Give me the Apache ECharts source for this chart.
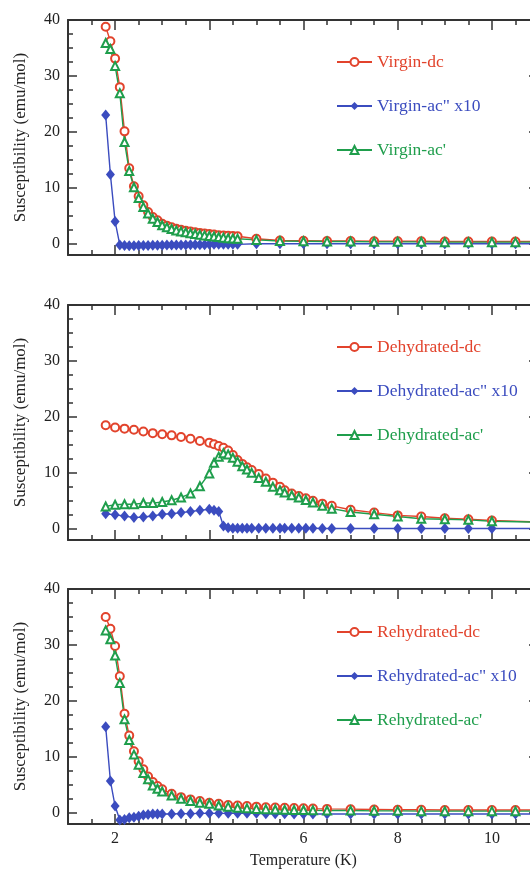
<!DOCTYPE html>
<html>
<head>
<meta charset="utf-8">
<script src="https://cdn.jsdelivr.net/npm/echarts@6/dist/echarts.min.js"></script>
<style>
  html, body { margin: 0; padding: 0; background: #fff; }
  #chart { width: 530px; height: 871px; }
</style>
</head>
<body>
<div id="chart"></div>
<script>
// temperatures (K)
const tVirgin = [1.8, 1.9, 2.0, 2.1, 2.2, 2.3, 2.4, 2.5, 2.6, 2.7, 2.8, 2.9, 3.0, 3.1, 3.2, 3.3, 3.4, 3.5, 3.6, 3.7, 3.8, 3.9, 4.0, 4.1, 4.2, 4.3, 4.4, 4.5, 4.6,
  5.0, 5.5, 6.0, 6.5, 7.0, 7.5, 8.0, 8.5, 9.0, 9.5, 10.0, 10.5, 11.0]
const tDehyd = [1.8, 2.0, 2.2, 2.4, 2.6, 2.8, 3.0, 3.2, 3.4, 3.6, 3.8, 4.0, 4.1, 4.2, 4.3, 4.4, 4.5, 4.6, 4.7, 4.8, 4.9,
  5.05, 5.2, 5.35, 5.5, 5.6, 5.75, 5.9, 6.05, 6.2, 6.4, 6.6, 7.0, 7.5, 8.0, 8.5, 9.0, 9.5, 10.0, 11.0]
const tRehyd = [1.8, 1.9, 2.0, 2.1, 2.2, 2.3, 2.4, 2.5, 2.6, 2.7, 2.8, 2.9, 3.0, 3.2, 3.4, 3.6, 3.8, 4.0, 4.2, 4.4, 4.6, 4.8,
  5.0, 5.2, 5.4, 5.6, 5.8, 6.0, 6.2, 6.5, 7.0, 7.5, 8.0, 8.5, 9.0, 9.5, 10.0, 10.5, 11.0]

// susceptibility (emu/mol)
const virginDc = [38.8, 36.2, 33.1, 28.0, 20.1, 13.5, 10.3, 8.5, 6.9, 5.7, 4.8, 4.2, 3.6, 3.25, 2.95, 2.7, 2.5, 2.35, 2.2, 2.05, 1.95, 1.85, 1.75, 1.65, 1.55, 1.5, 1.45, 1.4, 1.35,
  0.9, 0.6, 0.55, 0.5, 0.5, 0.45, 0.45, 0.45, 0.4, 0.4, 0.4, 0.4, 0.4]
const virginAc2 = [23.0, 12.4, 4.0, -0.2, -0.3, -0.35, -0.35, -0.3, -0.3, -0.3, -0.25, -0.25, -0.25, -0.2, -0.2, -0.2, -0.2, -0.2, -0.15, -0.15, -0.15, -0.15, -0.1, -0.1, -0.1, -0.1, -0.1, -0.1, -0.1,
  0.0, 0.0, 0.0, 0.0, 0.0, 0.0, 0.0, 0.0, 0.0, 0.0, 0.0, 0.0, 0.0]
const virginAc1 = [35.9, 34.8, 31.8, 26.9, 18.2, 13.0, 10.1, 8.2, 6.6, 5.4, 4.5, 3.9, 3.3, 2.95, 2.65, 2.4, 2.2, 2.05, 1.9, 1.75, 1.6, 1.5, 1.4, 1.3, 1.2, 1.1, 1.0, 0.95, 0.9,
  0.7, 0.5, 0.45, 0.4, 0.4, 0.35, 0.35, 0.35, 0.3, 0.3, 0.3, 0.3, 0.3]

const dehydDc = [18.5, 18.1, 17.9, 17.7, 17.4, 17.1, 16.9, 16.7, 16.4, 16.1, 15.7, 15.4, 15.1, 14.8, 14.5, 14.0, 13.2, 12.3, 11.6, 11.0, 10.5,
  9.8, 9.0, 8.25, 7.5, 6.9, 6.3, 5.85, 5.45, 5.0, 4.5, 4.1, 3.4, 2.9, 2.4, 2.2, 1.9, 1.7, 1.5, 1.2]
const dehydAc2 = [2.7, 2.5, 2.3, 2.0, 2.1, 2.3, 2.6, 2.7, 2.9, 3.1, 3.3, 3.5, 3.3, 3.1, 0.5, 0.2, 0.1, 0.1, 0.1, 0.1, 0.1,
  0.1, 0.1, 0.1, 0.1, 0.1, 0.1, 0.1, 0.1, 0.1, 0.05, 0.05, 0.05, 0.05, 0.05, 0.05, 0.05, 0.05, 0.05, 0.05]
const dehydAc1 = [4.0, 4.3, 4.4, 4.4, 4.6, 4.6, 4.8, 5.1, 5.6, 6.3, 7.6, 9.9, 11.8, 12.9, 13.5, 13.3, 12.7, 12.0, 11.2, 10.6, 10.0,
  9.1, 8.4, 7.5, 6.9, 6.5, 6.0, 5.6, 5.15, 4.7, 4.1, 3.6, 3.0, 2.6, 2.2, 1.8, 1.7, 1.6, 1.35, 1.2]

const rehydDc = [35.0, 32.9, 29.8, 24.4, 17.7, 13.8, 11.0, 9.2, 7.8, 6.5, 5.5, 4.8, 4.2, 3.4, 2.8, 2.4, 2.1, 1.8, 1.6, 1.4, 1.3, 1.2,
  1.1, 1.0, 0.95, 0.9, 0.85, 0.8, 0.75, 0.7, 0.65, 0.6, 0.55, 0.55, 0.5, 0.5, 0.5, 0.5, 0.5]
const rehydAc2 = [15.4, 5.7, 1.2, -1.3, -1.2, -0.9, -0.8, -0.6, -0.4, -0.3, -0.2, -0.2, -0.2, -0.2, -0.15, -0.15, -0.1, -0.1, -0.1, -0.1, -0.1, -0.1,
  -0.1, -0.15, -0.15, -0.15, -0.2, -0.2, -0.2, -0.2, -0.2, -0.2, -0.2, -0.2, -0.2, -0.2, -0.2, -0.2, -0.2]
const rehydAc1 = [32.6, 31.0, 28.1, 23.2, 16.7, 13.0, 10.4, 8.6, 7.1, 6.0, 4.9, 4.3, 3.8, 3.1, 2.5, 2.1, 1.8, 1.6, 1.3, 1.1, 0.9, 0.8,
  0.7, 0.65, 0.6, 0.55, 0.5, 0.5, 0.45, 0.4, 0.4, 0.35, 0.35, 0.3, 0.3, 0.3, 0.3, 0.3, 0.3]

// tick positions
const xMajor = [2, 4, 6, 8, 10]
const xMinor = [1.5, 2.5, 3, 3.5, 4.5, 5, 5.5, 6.5, 7, 7.5, 8.5, 9, 9.5, 10.5]
const yMajor = [0, 10, 20, 30, 40]
const yMinor = [2.5, 5, 7.5, 12.5, 15, 17.5, 22.5, 25, 27.5, 32.5, 35, 37.5]

const panels = [
  { name: 'Virgin', t: tVirgin, dc: virginDc, ac2: virginAc2, ac1: virginAc1 },
  { name: 'Dehydrated', t: tDehyd, dc: dehydDc, ac2: dehydAc2, ac1: dehydAc1 },
  { name: 'Rehydrated', t: tRehyd, dc: rehydDc, ac2: rehydAc2, ac1: rehydAc1 }
]

const RED = '#e2432c'
const BLUE = '#3b4cbf'
const GREEN = '#1f9e4c'
const AXIS = '#333'
const FONT = 'Liberation Serif'

const gridTops = [20, 305, 589]
const legendTops = [48, 333, 618]

const frame = { show: true, onZero: false, lineStyle: { color: AXIS, width: 2 } }
const noLine = { show: false, onZero: false }

function zip(t, v) {
  return t.map((x, i) => [x, v[i]])
}

function xAxesFor(g) {
  const base = { gridIndex: g, type: 'value', min: 1, max: 11, splitLine: { show: false } }
  const last = g === 2
  return [
    Object.assign({}, base, {
      position: 'bottom',
      axisLine: frame,
      axisTick: { inside: true, length: 10, customValues: xMajor, lineStyle: { color: AXIS, width: 1.5 } },
      axisLabel: { show: last, customValues: xMajor, margin: 7, color: '#222', fontFamily: FONT, fontSize: 16 },
      name: last ? 'Temperature (K)' : '',
      nameLocation: 'middle',
      nameGap: 29,
      nameTextStyle: { color: '#222', fontFamily: FONT, fontSize: 16 }
    }),
    Object.assign({}, base, {
      position: 'bottom',
      axisLine: noLine,
      axisTick: { inside: true, length: 5, customValues: xMinor, lineStyle: { color: AXIS, width: 1.5 } },
      axisLabel: { show: false }
    }),
    Object.assign({}, base, {
      position: 'top',
      axisLine: frame,
      axisTick: { inside: true, length: 10, customValues: xMajor, lineStyle: { color: AXIS, width: 1.5 } },
      axisLabel: { show: false }
    }),
    Object.assign({}, base, {
      position: 'top',
      axisLine: noLine,
      axisTick: { inside: true, length: 5, customValues: xMinor, lineStyle: { color: AXIS, width: 1.5 } },
      axisLabel: { show: false }
    })
  ]
}

function yAxesFor(g) {
  const base = { gridIndex: g, type: 'value', min: -2, max: 40, splitLine: { show: false } }
  return [
    Object.assign({}, base, {
      position: 'left',
      axisLine: frame,
      axisTick: { inside: true, length: 9, customValues: yMajor, lineStyle: { color: AXIS, width: 1.5 } },
      axisLabel: { customValues: yMajor, margin: 8, color: '#222', fontFamily: FONT, fontSize: 16 },
      name: 'Susceptibility (emu/mol)',
      nameLocation: 'middle',
      nameGap: 39,
      nameTextStyle: { color: '#222', fontFamily: FONT, fontSize: 17 }
    }),
    Object.assign({}, base, {
      position: 'left',
      axisLine: noLine,
      axisTick: { inside: true, length: 5, customValues: yMinor, lineStyle: { color: AXIS, width: 1.5 } },
      axisLabel: { show: false }
    }),
    Object.assign({}, base, {
      position: 'right',
      axisLine: frame,
      axisTick: { inside: true, length: 10, customValues: yMajor, lineStyle: { color: AXIS, width: 1.5 } },
      axisLabel: { show: false }
    }),
    Object.assign({}, base, {
      position: 'right',
      axisLine: noLine,
      axisTick: { inside: true, length: 5, customValues: yMinor, lineStyle: { color: AXIS, width: 1.5 } },
      axisLabel: { show: false }
    })
  ]
}

const grid = []
const xAxis = []
const yAxis = []
const series = []
const legend = []

panels.forEach((p, g) => {
  grid.push({ left: 68, width: 471, top: gridTops[g], height: 235, outerBoundsMode: 'none' })
  xAxis.push(...xAxesFor(g))
  yAxis.push(...yAxesFor(g))

  const names = [p.name + '-dc', p.name + '-ac" x10', p.name + "-ac'"]
  const common = { type: 'line', xAxisIndex: g * 4, yAxisIndex: g * 4, animation: false, z: 3 }
  series.push(Object.assign({}, common, {
    name: names[0], data: zip(p.t, p.dc),
    symbol: 'emptyCircle', symbolSize: 8,
    lineStyle: { color: RED, width: 1.4 },
    itemStyle: { color: RED, borderWidth: 1.4 }
  }))
  series.push(Object.assign({}, common, {
    name: names[1], data: zip(p.t, p.ac2),
    symbol: 'diamond', symbolSize: [9, 11],
    lineStyle: { color: BLUE, width: 1.4 },
    itemStyle: { color: BLUE }
  }))
  series.push(Object.assign({}, common, {
    name: names[2], data: zip(p.t, p.ac1),
    symbol: 'emptyTriangle', symbolSize: 8,
    lineStyle: { color: GREEN, width: 1.4 },
    itemStyle: { color: GREEN, borderWidth: 1.4 }
  }))

  legend.push({
    orient: 'vertical',
    left: 331,
    top: legendTops[g],
    itemWidth: 35,
    itemHeight: 10,
    itemGap: 26,
    selectedMode: false,
    textStyle: { fontFamily: FONT, fontSize: 17.5 },
    data: [
      { name: names[0], textStyle: { color: RED } },
      { name: names[1], textStyle: { color: BLUE } },
      { name: names[2], textStyle: { color: GREEN } }
    ]
  })
})

const chart = echarts.init(document.getElementById('chart'))
chart.setOption({
  backgroundColor: '#fff',
  animation: false,
  grid: grid,
  xAxis: xAxis,
  yAxis: yAxis,
  legend: legend,
  series: series
})
</script>
</body>
</html>
